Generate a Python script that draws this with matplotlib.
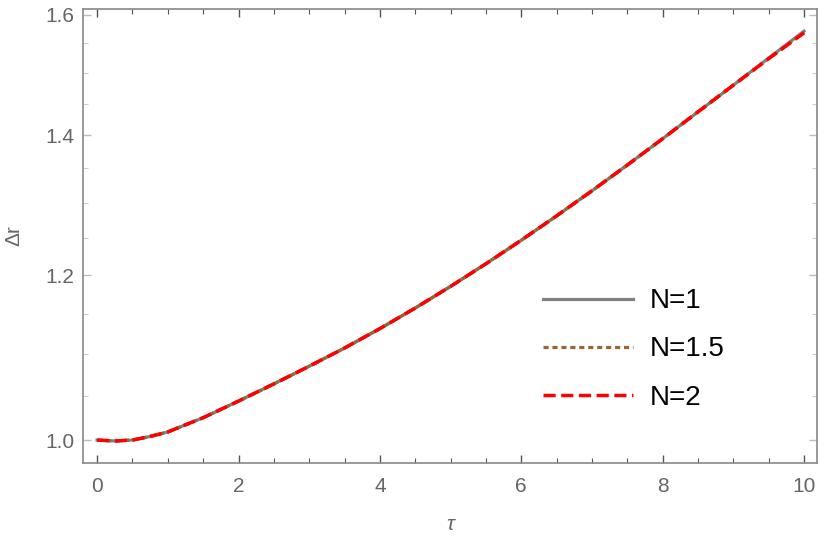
import matplotlib.pyplot as plt
from matplotlib.ticker import FixedLocator, NullFormatter

plt.rcParams['font.family'] = ['Liberation Sans', 'DejaVu Sans']

tau = [0.0, 0.25, 0.5, 0.75, 1.0, 1.25, 1.5, 2.0, 2.5, 3.0, 3.5, 4.0, 4.5, 5.0,
       5.5, 6.0, 6.5, 7.0, 7.5, 8.0, 8.5, 9.0, 9.5, 10.0]
dr_n1 = [1.000, 0.999, 1.000, 1.004, 1.009, 1.017, 1.025, 1.044, 1.064, 1.085, 1.107, 1.131,
         1.157, 1.185, 1.215, 1.247, 1.281, 1.317, 1.355, 1.395, 1.437, 1.480, 1.525, 1.571]
dr_n15 = [1.000, 0.999, 1.000, 1.004, 1.009, 1.017, 1.025, 1.044, 1.064, 1.085, 1.107, 1.131,
          1.157, 1.185, 1.215, 1.247, 1.281, 1.317, 1.355, 1.395, 1.437, 1.480, 1.524, 1.569]
dr_n2 = [1.000, 0.999, 1.000, 1.004, 1.009, 1.017, 1.025, 1.044, 1.064, 1.085, 1.107, 1.131,
         1.157, 1.185, 1.215, 1.247, 1.281, 1.317, 1.355, 1.395, 1.437, 1.480, 1.524, 1.568]

y_major = [1.0, 1.2, 1.4, 1.6]
y_minor = [1.05, 1.1, 1.15, 1.25, 1.3, 1.35, 1.45, 1.5, 1.55]

fig = plt.figure(figsize=(8.3, 5.47), dpi=100)
ax = fig.add_axes([0.1, 0.1536, 0.884, 0.83])

ax.plot(tau, dr_n1, color='#808080', lw=2.3, label='N=1')
ax.plot(tau, dr_n15, color='#996633', lw=2.3, linestyle=(0, (1.6, 1.2)), label='N=1.5')
ax.plot(tau, dr_n2, color='#ff0000', lw=2.5, linestyle=(0, (3.5, 1.6)), label='N=2')

ax.set_yscale('log')
ax.set_xlim(-0.2, 10.18)
ax.set_ylim(0.975, 1.610)
ax.yaxis.set_major_locator(FixedLocator(y_major))
ax.yaxis.set_minor_locator(FixedLocator(y_minor))
ax.set_yticklabels([f'{v:.1f}' for v in y_major])
ax.yaxis.set_minor_formatter(NullFormatter())
ax.set_xticks(range(0, 11, 2))
ax.set_xticks([i * 0.5 for i in range(21)], minor=True)

for s in ax.spines.values():
    s.set_color('#888888')
    s.set_linewidth(1.2)

ax.tick_params(axis='both', which='both', direction='in', top=True, right=True,
               labelsize=15, labelcolor='#666666')
ax.tick_params(axis='x', which='major', length=6, width=1, color='#555555', pad=10)
ax.tick_params(axis='x', which='minor', length=3.5, width=0.8, color='#555555')
ax.tick_params(axis='y', which='major', length=6, width=1, color='#bbbbbb', pad=6)
ax.tick_params(axis='y', which='minor', length=3.5, width=0.8, color='#cccccc')

ax.set_xlabel('τ', fontsize=15, color='#666666', style='italic', labelpad=14)
ax.set_ylabel('Δr', fontsize=15, color='#666666', labelpad=16)

leg = ax.legend(loc='center left', bbox_to_anchor=(0.593, 0.25), frameon=False,
                fontsize=20, handlelength=3.24, handletextpad=0.6, labelspacing=0.8)

fig.savefig('out.png', dpi=100)
